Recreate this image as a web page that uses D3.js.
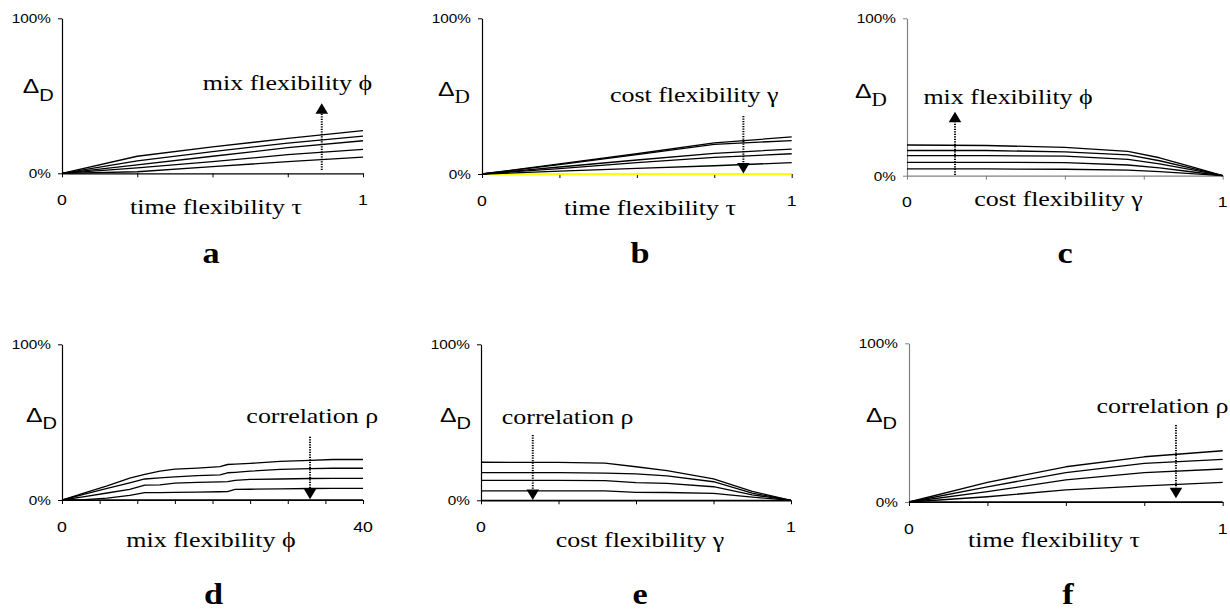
<!DOCTYPE html>
<html><head><meta charset="utf-8">
<script src="https://cdn.jsdelivr.net/npm/d3@7"></script>
<style>body{margin:0;background:#fff}svg{display:block}</style>
</head><body>
<svg id="chart" width="1230" height="611"></svg>
<script>
// ---------- data ----------
const yTickLabels = ["0%", "100%"];
const xTickLabelsUnit = ["0", "1"];
const xTickLabelsPhi = ["0", "40"];

const xA = [0, 0.25, 0.5, 0.75, 1];
const seriesA = [
  [0, 11, 17, 22.5, 27.5],
  [0, 8, 14, 19.5, 24],
  [0, 5.5, 11, 16.5, 21],
  [0, 3.5, 7.5, 12, 15.5],
  [0, 1, 4.3, 7.5, 10.5]
];

const xB = [0, 0.25, 0.5, 0.75, 1];
const seriesB = [
  [0, 6.5, 13, 20, 23.8],
  [0, 6, 12.5, 19, 21.5],
  [0, 4.5, 9, 13.3, 16],
  [0, 3.5, 7.3, 10.7, 13],
  [0, 1.8, 3.6, 5.3, 7.3]
];
const seriesBZero = [0, 0, 0, 0, 0];

const xC = [0, 0.25, 0.5, 0.7, 0.8, 0.9, 1];
const seriesC = [
  [19.5, 19.2, 18, 15.5, 11.4, 5.7, 0],
  [16, 16, 15.2, 13.2, 9.5, 4.8, 0],
  [12.7, 12.7, 12.5, 10.4, 7.5, 3.8, 0],
  [8.5, 8.5, 8.3, 6.8, 5, 2.5, 0],
  [4.3, 4.3, 4.1, 3.6, 2.6, 1.3, 0]
];

const xD = [0, 3, 6, 9, 11, 13, 15, 18, 21, 22, 23, 25, 29, 33, 36, 40];
const seriesD = [
  [0, 4.5, 9, 14, 16.5, 18.5, 19.8, 20.5, 21.5, 22.8, 23, 23.5, 24.8, 25.4, 26, 26],
  [0, 3.8, 7.5, 11, 13.5, 14.2, 14.8, 15.6, 16.2, 17.5, 17.8, 18.5, 19.7, 20.2, 20.4, 20.4],
  [0, 2.2, 4.5, 6.8, 9.5, 9.7, 10.8, 11.3, 11.6, 11.8, 12.6, 13.2, 13.5, 13.8, 13.9, 13.9],
  [0, 0.3, 1.2, 3, 4.7, 4.8, 4.9, 5.1, 5.3, 5.4, 6.8, 6.9, 7.2, 7.4, 7.5, 7.5],
  [0, 0, 0, 0, 0, 0, 0, 0, 0, 0, 0, 0, 0, 0, 0, 0]
];

const xE = [0, 0.25, 0.4, 0.5, 0.6, 0.75, 0.875, 1];
const seriesE = [
  [24.4, 24.3, 23.8, 21.5, 19, 13.7, 5.7, 0],
  [17.7, 17.7, 17.4, 16.9, 15.6, 11.9, 4.6, 0],
  [12.8, 12.8, 12.6, 11.3, 10.8, 8.7, 3.5, 0],
  [6.1, 6.1, 6.0, 5.1, 5.0, 4.5, 2.0, 0],
  [0, 0, 0, 0, 0, 0, 0, 0]
];

const xF = [0, 0.25, 0.5, 0.75, 1];
const seriesF = [
  [0, 12.4, 22.2, 28.5, 32.3],
  [0, 9.6, 18.5, 24.4, 26.9],
  [0, 6.5, 13.9, 18.5, 20.8],
  [0, 3.3, 7.6, 10.1, 12.4],
  [0, 0, 0, 0, 0]
];

const titles = ["time flexibility τ", "time flexibility τ", "cost flexibility γ",
                "mix flexibility ϕ", "cost flexibility γ", "time flexibility τ"];
const notes = ["mix flexibility ϕ", "cost flexibility γ", "mix flexibility ϕ",
               "correlation ρ", "correlation ρ", "correlation ρ"];
const letters = ["a", "b", "c", "d", "e", "f"];

// ---------- layout ----------
const SX = 1.18; // horizontal text stretch of the reference
const layout = [
  {x0: 62, x1: 363, yT: 18.3, yB: 173.3, xs: xA, ser: seriesA, dom: [0, 1], ticks: [0, .25, .5, .75, 1], tl: xTickLabelsUnit,
   axis: "#000", yaxis: "#000", dX: -39.3, dY: 75, serifD: false, titleX: 216, titleY: 213.5, letterX: 211, letterY: 263,
   arrow: {x: 0.863, from: 2.1, to: 45.2}, note: {x: 0.468, y: 53.7}},
  {x0: 482, x1: 791.7, yT: 18.3, yB: 174, xs: xB, ser: seriesB, dom: [0, 1], ticks: [0, .25, .5, .75, 1], tl: xTickLabelsUnit,
   axis: "#000", yaxis: "#000", dX: -44, dY: 77.7, serifD: true, titleX: 650, titleY: 215, letterX: 640, letterY: 263,
   arrow: {x: 0.844, from: 37.3, to: 0.4}, note: {x: 0.413, y: 46.4}, zero: seriesBZero},
  {x0: 907, x1: 1222.7, yT: 18.3, yB: 175.7, xs: xC, ser: seriesC, dom: [0, 1], ticks: [0, .25, .5, .75, 1], tl: xTickLabelsUnit,
   axis: "#808080", yaxis: "#808080", dX: -52, dY: 80, serifD: true, titleX: 1058.5, titleY: 206, letterX: 1065, letterY: 263,
   arrow: {x: 0.152, from: 0.4, to: 40.7}, note: {x: 0.052, y: 45.4}},
  {x0: 62, x1: 363, yT: 344.3, yB: 500, xs: xD, ser: seriesD, dom: [0, 40], ticks: [0, 5, 10, 15, 20, 25, 30, 35, 40], tl: xTickLabelsPhi,
   axis: "#000", yaxis: "#000", dX: -36, dY: 77.4, serifD: false, titleX: 211, titleY: 546.5, letterX: 213.5, letterY: 604,
   arrow: {x: 32.96, from: 40.7, to: 0.45}, note: {x: 24.5, y: 49.3}},
  {x0: 481, x1: 791, yT: 344.3, yB: 500.3, xs: xE, ser: seriesE, dom: [0, 1], ticks: [0, .25, .5, .75, 1], tl: xTickLabelsUnit,
   axis: "#000", yaxis: "#000", dX: -41, dY: 77.4, serifD: false, titleX: 640, titleY: 547, letterX: 640, letterY: 604,
   arrow: {x: 0.167, from: 41.9, to: 0.2}, note: {x: 0.067, y: 48.9}},
  {x0: 909, x1: 1222.7, yT: 343.3, yB: 502, xs: xF, ser: seriesF, dom: [0, 1], ticks: [0, .25, .5, .75, 1], tl: xTickLabelsUnit,
   axis: "#000", yaxis: "#808080", dX: -43, dY: 78.4, serifD: false, titleX: 1054, titleY: 547, letterX: 1068, letterY: 604,
   arrow: {x: 0.851, from: 48.5, to: 2.3}, note: {x: 0.598, y: 55.9}}
];

const svg = d3.select("#chart");
const SANS = "'Liberation Sans', Arial, sans-serif";
const SERIF = "'Liberation Serif', 'Times New Roman', serif";

function txt(g, x, y, s, size, family, anchor, weight) {
  return g.append("text")
    .attr("transform", `translate(${x},${y}) scale(${SX},1)`)
    .attr("text-anchor", anchor || "start")
    .attr("font-family", family)
    .attr("font-size", size)
    .attr("font-weight", weight || "normal")
    .attr("fill", "#000")
    .text(s);
}

layout.forEach((p, i) => {
  const g = svg.append("g");
  const x = d3.scaleLinear().domain(p.dom).range([p.x0, p.x1]);
  const y = d3.scaleLinear().domain([0, 100]).range([p.yB, p.yT]);
  const line = d3.line().x((d, j) => x(p.xs[j])).y(d => y(d));

  // x axis
  const xa = g.append("g").attr("transform", `translate(0,${p.yB})`)
    .call(d3.axisBottom(x).tickValues(p.ticks).tickSize(4).tickSizeOuter(0).tickFormat(""));
  xa.select(".domain").attr("stroke", p.axis).attr("stroke-width", 1.2);
  xa.selectAll(".tick line").attr("stroke", p.axis);
  // y axis
  const ya = g.append("g").attr("transform", `translate(${p.x0},0)`)
    .call(d3.axisLeft(y).tickValues([0, 100]).tickSize(4).tickSizeOuter(0).tickFormat(""));
  ya.select(".domain").attr("stroke", p.yaxis).attr("stroke-width", 1.2);
  ya.selectAll(".tick line").attr("stroke", p.yaxis);

  if (p.zero) {
    g.append("path").datum(p.zero).attr("d", line)
      .attr("fill", "none").attr("stroke", "#ffff00").attr("stroke-width", 1.8);
  }
  p.ser.forEach(s => {
    g.append("path").datum(s).attr("d", line)
      .attr("fill", "none").attr("stroke", "#000").attr("stroke-width", 1.3)
      .attr("stroke-linejoin", "round");
  });

  // tick labels
  txt(g, p.x0 - 11, y(100) + 5, yTickLabels[1], 13, SANS, "end");
  txt(g, p.x0 - 11, y(0) + 5, yTickLabels[0], 13, SANS, "end");
  txt(g, x(p.dom[0]), p.yB + 31.5, p.tl[0], 15, SANS, "middle");
  txt(g, x(p.dom[1]), p.yB + 31.5, p.tl[1], 15, SANS, "middle");

  // axis title
  txt(g, p.titleX, p.titleY, titles[i], 22, SERIF, "middle");

  // Delta_D
  const t = g.append("text")
    .attr("transform", `translate(${p.x0 + p.dX},${p.yT + p.dY}) scale(${SX},1)`)
    .attr("fill", "#000");
  t.append("tspan").attr("font-family", SANS).attr("font-size", 21).text("Δ");
  t.append("tspan").attr("font-family", p.serifD ? SERIF : SANS)
    .attr("font-size", p.serifD ? 18 : 17).attr("dy", 7.4).text("D");

  // annotation arrow
  const ax = x(p.arrow.x), yFrom = y(p.arrow.from), yTo = y(p.arrow.to);
  const dir = yTo < yFrom ? 1 : -1; // 1 = pointing up
  const headLen = 10.5, headHalf = 6.3;
  const yBase = yTo + dir * headLen;
  g.append("line").attr("x1", ax).attr("x2", ax).attr("y1", yFrom).attr("y2", yBase)
    .attr("stroke", "#000").attr("stroke-width", 2).attr("stroke-dasharray", "1.3,1.2");
  g.append("path")
    .attr("d", `M${ax},${yTo} L${ax - headHalf},${yBase} L${ax + headHalf},${yBase} Z`)
    .attr("fill", "#000");

  // annotation text
  txt(g, x(p.note.x), y(p.note.y), notes[i], 22, SERIF, "start");

  // panel letter
  txt(g, p.letterX, p.letterY, letters[i], 29, SERIF, "middle", "bold");
});
</script>
</body></html>
